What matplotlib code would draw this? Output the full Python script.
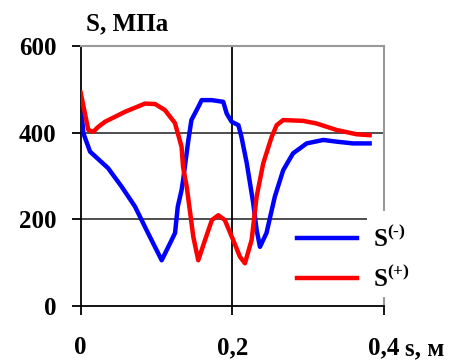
import numpy as np
import matplotlib
matplotlib.use("Agg")
import matplotlib.pyplot as plt
from matplotlib.patches import Rectangle

# ---------------- Daten ----------------
s_minus = [0.0, 0.0034, 0.0123, 0.036, 0.054, 0.0716, 0.0887, 0.1068, 0.12, 0.1244,
           0.128, 0.133, 0.135, 0.142, 0.146, 0.155, 0.1595, 0.1727, 0.188, 0.1925,
           0.199, 0.208, 0.212, 0.219, 0.2276, 0.232, 0.2364, 0.245, 0.256, 0.267,
           0.28, 0.298, 0.32, 0.3375, 0.359, 0.381]
S_minus = [475, 399, 356, 318, 275, 229, 168, 105, 152, 168,
           229, 267, 290, 383, 429, 459, 475, 475, 471, 444,
           425, 417, 390, 329, 236, 175, 136, 168, 252, 313,
           352, 375, 383, 379, 375, 375]

s_plus = [0.0, 0.010, 0.0166, 0.023, 0.032, 0.0584, 0.0848, 0.098, 0.111, 0.1243,
          0.133, 0.135, 0.1398, 0.1485, 0.155, 0.164, 0.173, 0.1814, 0.190, 0.201,
          0.21, 0.2166, 0.2254, 0.232, 0.2407, 0.2518, 0.2584, 0.267, 0.2935, 0.311,
          0.3375, 0.364, 0.381]
S_plus = [492, 406, 402, 413, 425, 448, 467, 466, 452, 422,
          367, 320, 275, 159, 105, 152, 198, 209, 198, 152,
          113, 98, 152, 252, 329, 390, 417, 429, 427, 421,
          406, 396, 394]

xticks = [0, 0.2, 0.4]
xticklabels = ["0", "0,2", "0,4"]
yticks = [0, 200, 400, 600]

# ---------------- Stil ----------------
plt.rcParams["font.family"] = ["Liberation Serif", "DejaVu Serif"]
plt.rcParams["font.weight"] = "bold"
plt.rcParams["mathtext.fontset"] = "custom"
plt.rcParams["mathtext.rm"] = "Liberation Serif"
fs = 18

fig = plt.figure(figsize=(4.55, 3.6), dpi=100)
ax = fig.add_axes([0.1774, 0.1508, 0.6666, 0.7214])

ax.plot(s_minus, S_minus, color="#0000ff", lw=3.2, label="S$^{\\rm (\u2010)}$", zorder=4)
ax.plot(s_plus, S_plus, color="#ff0000", lw=3.2, label=r"S$^{\rm (+)}$", zorder=4)

ax.set_xlim(0, 0.4)
ax.set_ylim(0, 600)
ax.set_xticks(xticks)
ax.set_xticklabels(xticklabels)
ax.set_yticks(yticks)

# Gitterlinien
for y in [200, 400]:
    ax.axhline(y, color="#404040", lw=1.3, zorder=1)
ax.axvline(0.2, color="black", lw=1.3, zorder=1)

for side in ["left", "bottom"]:
    ax.spines[side].set_color("black")
    ax.spines[side].set_linewidth(1.3)
for side in ["top", "right"]:
    ax.spines[side].set_color("#999999")
    ax.spines[side].set_linewidth(1.5)

ax.tick_params(axis="both", direction="out", length=6.5, width=1.3,
               labelsize=fs, colors="black")
ax.tick_params(axis="x", pad=15.5)
ax.tick_params(axis="y", pad=11)
ax.get_xticklines()[-1].set_color("#999999")

# Achsentitel
ax.text(0.017, 1.062, "S, МПа", transform=ax.transAxes, fontsize=fs,
        fontweight="bold", ha="left", va="baseline")
ax.text(1.069, -0.19, "s, м", transform=ax.transAxes, fontsize=fs,
        fontweight="bold", ha="left", va="baseline")

# weisser Hintergrund hinter der Legende
ax.add_patch(Rectangle((0.944, 0.0335), 0.4, 0.33, transform=ax.transAxes,
                       facecolor="white", edgecolor="none", clip_on=False, zorder=3))

leg = ax.legend(loc="center left", bbox_to_anchor=(0.712, 0.18), frameon=False,
                fontsize=fs, handlelength=2.4, handletextpad=0.65,
                borderaxespad=0, borderpad=0, labelspacing=0.55)
leg.set_zorder(6)

fig.savefig("out.png", dpi=100)
